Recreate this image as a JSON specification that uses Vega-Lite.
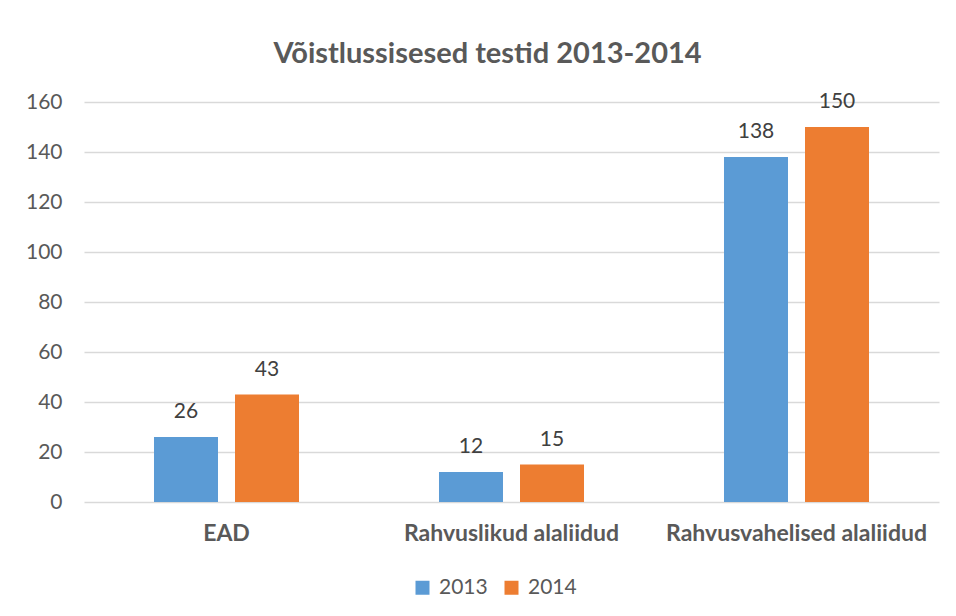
{
  "$schema": "https://vega.github.io/schema/vega-lite/v6.json",
  "width": 855,
  "height": 400,
  "autosize": {"type": "none"},
  "padding": {"left": 84, "top": 102, "right": 17, "bottom": 114},
  "background": "white",
  "title": {
    "text": "Võistlussisesed testid 2013-2014",
    "font": "Lato",
    "fontSize": 29,
    "fontWeight": "bold",
    "color": "#595959",
    "anchor": "middle",
    "dx": -24,
    "offset": 22
  },
  "data": {
    "values": [
      {"kategooria": "EAD", "aasta": "2013", "vaartus": 26},
      {"kategooria": "EAD", "aasta": "2014", "vaartus": 43},
      {"kategooria": "Rahvuslikud alaliidud", "aasta": "2013", "vaartus": 12},
      {"kategooria": "Rahvuslikud alaliidud", "aasta": "2014", "vaartus": 15},
      {"kategooria": "Rahvusvahelised alaliidud", "aasta": "2013", "vaartus": 138},
      {"kategooria": "Rahvusvahelised alaliidud", "aasta": "2014", "vaartus": 150}
    ]
  },
  "encoding": {
    "x": {
      "field": "kategooria",
      "type": "nominal",
      "sort": null,
      "scale": {"paddingInner": 0, "paddingOuter": 0},
      "axis": {
        "title": null,
        "labelAngle": 0,
        "labelFont": "Lato",
        "labelFontSize": 23,
        "labelFontWeight": "bold",
        "labelColor": "#595959",
        "labelPadding": 20,
        "labelLimit": 0,
        "ticks": false,
        "domain": false
      }
    },
    "xOffset": {
      "field": "aasta",
      "type": "nominal",
      "scale": {"paddingInner": 0.21, "paddingOuter": 0.864}
    },
    "y": {
      "field": "vaartus",
      "type": "quantitative",
      "scale": {"domain": [0, 160], "nice": false},
      "axis": {
        "title": null,
        "values": [0, 20, 40, 60, 80, 100, 120, 140, 160],
        "labelFont": "Lato",
        "labelFontSize": 21,
        "labelColor": "#595959",
        "labelPadding": 22,
        "ticks": false,
        "domain": false,
        "gridColor": "#D9D9D9",
        "gridWidth": 1.3
      }
    }
  },
  "layer": [
    {
      "mark": {"type": "bar"},
      "encoding": {
        "color": {
          "field": "aasta",
          "type": "nominal",
          "scale": {"domain": ["2013", "2014"], "range": ["#5B9BD5", "#ED7D31"]},
          "legend": {
            "title": null,
            "orient": "none",
            "legendX": 328,
            "legendY": 475,
            "direction": "horizontal",
            "columns": 2,
            "symbolType": "square",
            "symbolSize": 196,
            "symbolStrokeWidth": 0,
            "labelFont": "Lato",
            "labelFontSize": 21,
            "labelColor": "#595959",
            "labelOffset": 6,
            "columnPadding": 13
          }
        }
      }
    },
    {
      "mark": {
        "type": "text",
        "baseline": "alphabetic",
        "dy": -19,
        "font": "Lato",
        "fontSize": 21,
        "color": "#404040"
      },
      "encoding": {
        "text": {"field": "vaartus", "type": "quantitative"}
      }
    }
  ],
  "config": {
    "view": {"stroke": null}
  }
}
